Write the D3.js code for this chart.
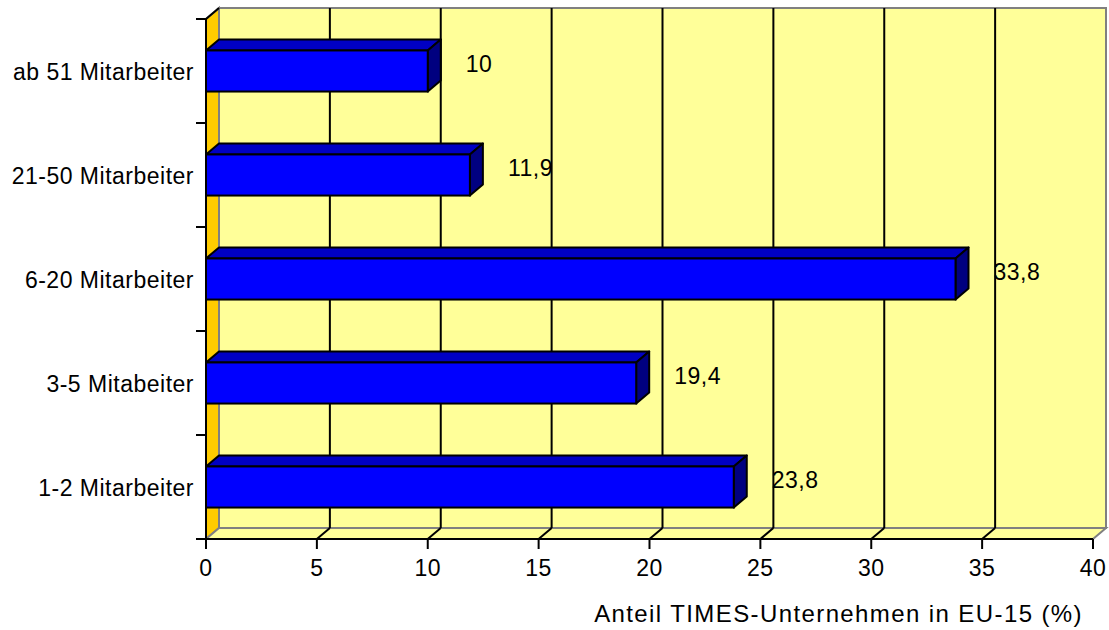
<!DOCTYPE html>
<html>
<head>
<meta charset="utf-8">
<script src="https://cdn.jsdelivr.net/npm/d3@7/dist/d3.min.js"></script>
<style>
  html, body { margin: 0; padding: 0; background: #ffffff; }
  svg { display: block; }
  text { font-family: "Liberation Sans", Arial, sans-serif; fill: #000; }
</style>
</head>
<body>
<svg id="chart" width="1109" height="630"></svg>
<script>
// Company size classes, listed bottom to top
const categories = ["1-2 Mitarbeiter", "3-5 Mitabeiter", "6-20 Mitarbeiter", "21-50 Mitarbeiter", "ab 51 Mitarbeiter"];
const shares = [23.8, 19.4, 33.8, 11.9, 10];
const shareLabels = ["23,8", "19,4", "33,8", "11,9", "10"];
const xTicks = [0, 5, 10, 15, 20, 25, 30, 35, 40];
const xTitle = "Anteil TIMES-Unternehmen in EU-15 (%)";

const svg = d3.select("#chart");

// Plot frame (front plane) and the 3D depth offset
const plotL = 206, plotR = 1093, plotT = 19, plotB = 539;
const dx = 13, dy = -11;

const x = d3.scaleLinear().domain([0, 40]).range([plotL, plotR]);
const y = d3.scaleBand().domain(categories.slice().reverse()).range([plotT, plotB]);

const wallFill = "#FFFF99", sideFill = "#FFCC00", edge = "#808080";
const labelFont = { size: 23, spacing: 0.5 };
const poly = pts => pts.map(p => p.join(",")).join(" ");
const styleText = sel => sel.attr("font-size", labelFont.size).attr("letter-spacing", labelFont.spacing);

// Back wall
svg.append("rect")
  .attr("x", plotL + dx).attr("y", plotT + dy)
  .attr("width", plotR - plotL).attr("height", plotB - plotT)
  .attr("fill", wallFill).attr("stroke", edge).attr("stroke-width", 2);

// Side wall
svg.append("polygon")
  .attr("points", poly([[plotL, plotT], [plotL + dx, plotT + dy], [plotL + dx, plotB + dy], [plotL, plotB]]))
  .attr("fill", sideFill).attr("stroke", edge).attr("stroke-width", 2);

// Floor
svg.append("polygon")
  .attr("points", poly([[plotL, plotB], [plotL + dx, plotB + dy], [plotR + dx, plotB + dy], [plotR, plotB]]))
  .attr("fill", wallFill).attr("stroke", edge).attr("stroke-width", 2);

// Gridlines on the back wall and along the floor
const inner = xTicks.filter(t => t > 0 && t < 40);
svg.append("g").selectAll("line").data(inner).join("line")
  .attr("x1", d => x(d) + dx).attr("x2", d => x(d) + dx)
  .attr("y1", plotT + dy).attr("y2", plotB + dy)
  .attr("stroke", "#000").attr("stroke-width", 2);
svg.append("g").selectAll("line").data(inner).join("line")
  .attr("x1", d => x(d)).attr("x2", d => x(d) + dx)
  .attr("y1", plotB).attr("y2", plotB + dy)
  .attr("stroke", "#000").attr("stroke-width", 2);

// Side wall top edge
svg.append("line")
  .attr("x1", plotL).attr("y1", plotT).attr("x2", plotL + dx).attr("y2", plotT + dy)
  .attr("stroke", "#000").attr("stroke-width", 2);

// Bars: front, top and right faces
const barH = y.bandwidth() * 0.395;
const rows = categories.map((c, i) => ({ c, v: shares[i], label: shareLabels[i] }));
const bars = svg.append("g").selectAll("g").data(rows).join("g");
bars.each(function (d) {
  const g = d3.select(this);
  const cy = y(d.c) + y.bandwidth() / 2;
  const y0 = cy - barH / 2, y1 = cy + barH / 2;
  const x0 = x(0), x1 = x(d.v);
  g.append("polygon")
    .attr("points", poly([[x0, y0], [x0 + dx, y0 + dy], [x1 + dx, y0 + dy], [x1, y0]]))
    .attr("fill", "#0000C4").attr("stroke", "#000").attr("stroke-width", 2).attr("stroke-linejoin", "round");
  g.append("polygon")
    .attr("points", poly([[x1, y0], [x1 + dx, y0 + dy], [x1 + dx, y1 + dy], [x1, y1]]))
    .attr("fill", "#000080").attr("stroke", "#000").attr("stroke-width", 2).attr("stroke-linejoin", "round");
  g.append("rect")
    .attr("x", x0).attr("y", y0).attr("width", x1 - x0).attr("height", y1 - y0)
    .attr("fill", "#0000FF").attr("stroke", "#000").attr("stroke-width", 2);
  g.append("text")
    .attr("x", x1 + 38).attr("y", cy - 7)
    .attr("dominant-baseline", "central")
    .call(styleText)
    .text(d.label);
});

// Y axis with category ticks
svg.append("line")
  .attr("x1", plotL).attr("x2", plotL).attr("y1", plotT).attr("y2", plotB)
  .attr("stroke", "#000").attr("stroke-width", 2);
const bounds = d3.range(categories.length + 1).map(i => plotT + i * y.step());
svg.append("g").selectAll("line").data(bounds).join("line")
  .attr("x1", plotL - 10).attr("x2", plotL).attr("y1", d => d).attr("y2", d => d)
  .attr("stroke", "#000").attr("stroke-width", 2);
svg.append("g").selectAll("text").data(categories).join("text")
  .attr("x", 194).attr("y", d => y(d) + y.bandwidth() / 2 + 1)
  .attr("text-anchor", "end").attr("dominant-baseline", "central")
  .call(styleText)
  .text(d => d);

// X axis
svg.append("line")
  .attr("x1", plotL - 10).attr("x2", plotR).attr("y1", plotB).attr("y2", plotB)
  .attr("stroke", "#000").attr("stroke-width", 2);
svg.append("g").selectAll("line").data(xTicks).join("line")
  .attr("x1", d => x(d)).attr("x2", d => x(d)).attr("y1", plotB).attr("y2", plotB + 10)
  .attr("stroke", "#000").attr("stroke-width", 2);
svg.append("g").selectAll("text").data(xTicks).join("text")
  .attr("x", d => x(d)).attr("y", 568)
  .attr("text-anchor", "middle").attr("dominant-baseline", "central")
  .call(styleText)
  .text(d => d);

svg.append("text")
  .attr("x", 1083).attr("y", 613)
  .attr("text-anchor", "end").attr("dominant-baseline", "central")
  .attr("font-size", 24).attr("letter-spacing", 1.4)
  .text(xTitle);
</script>
</body>
</html>
